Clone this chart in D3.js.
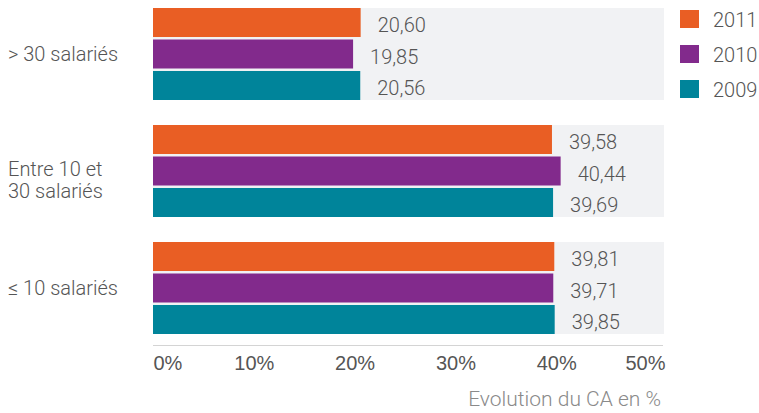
<!DOCTYPE html>
<html>
<head>
<meta charset="utf-8">
<script src="https://cdn.jsdelivr.net/npm/d3@7"></script>
<style>
  html, body { margin: 0; padding: 0; background: #fff; }
  svg { display: block; font-family: Roboto, "Liberation Sans", sans-serif; font-weight: 300; }
</style>
</head>
<body>
<svg id="chart" width="759" height="413"></svg>
<script>
// Company size groups (top to bottom) and label lines
const categories = ["> 30 salariés", "Entre 10 et 30 salariés", "≤ 10 salariés"];
const categoryLines = [["> 30 salariés"], ["Entre 10 et", "30 salariés"], ["≤ 10 salariés"]];
const years = ["2011", "2010", "2009"];
const yearColors = ["#E95E24", "#822A8C", "#00849A"];

// Revenue change (%) per group, one array per year
const values2011 = [20.60, 39.58, 39.81];
const values2010 = [19.85, 40.44, 39.71];
const values2009 = [20.56, 39.69, 39.85];

const xTicks = [0, 10, 20, 30, 40, 50];
const xTitle = "Evolution du CA en %";

const seriesByYear = { "2011": values2011, "2010": values2010, "2009": values2009 };
const color = d3.scaleOrdinal().domain(years).range(yearColors);
const fmt = v => v.toFixed(2).replace(".", ",");

const svg = d3.select("#chart");
const textColor = "#555";
const fontSize = 20;

const x = d3.scaleLinear().domain([0, 50]).range([153, 657]);
const plotRight = 664;
const yGroup = d3.scaleBand().domain(categories).range([8, 334]).paddingInner(25 / 117);
const yBar = d3.scaleBand().domain(years).range([0, yGroup.bandwidth()]).paddingInner(0.079);

const groups = svg.selectAll("g.group")
  .data(categories)
  .join("g")
  .attr("class", "group")
  .attr("transform", d => `translate(0,${yGroup(d)})`);

// light background band per group
groups.append("rect")
  .attr("x", x(0))
  .attr("y", 0)
  .attr("width", plotRight - x(0))
  .attr("height", yGroup.bandwidth())
  .attr("fill", "#F1F2F4");

groups.each(function (cat, i) {
  const g = d3.select(this);
  const rows = years.map(yr => ({ year: yr, value: seriesByYear[yr][i] }));
  g.selectAll("rect.bar")
    .data(rows)
    .join("rect")
    .attr("class", "bar")
    .attr("x", x(0))
    .attr("y", d => yBar(d.year))
    .attr("width", d => x(d.value) - x(0))
    .attr("height", yBar.bandwidth())
    .attr("fill", d => color(d.year));
  g.selectAll("text.value")
    .data(rows)
    .join("text")
    .attr("class", "value")
    .attr("x", d => x(d.value) + 17)
    .attr("y", d => yBar(d.year) + yBar.bandwidth() / 2 + 9.5)
    .attr("font-size", fontSize)
    .attr("fill", textColor)
    .text(d => fmt(d.value));

  // category label, first line aligned on the group centre
  const lines = categoryLines[i];
  const lh = 22;
  const first = yGroup.bandwidth() / 2 + (lines.length > 1 ? 5 : 7);
  const t = g.append("text")
    .attr("x", 8)
    .attr("font-size", fontSize)
    .attr("fill", textColor);
  lines.forEach((ln, k) => {
    t.append("tspan").attr("x", 8).attr("y", first + k * lh).text(ln);
  });
});

// x axis
const axis = svg.append("g")
  .attr("transform", "translate(0,345)")
  .call(d3.axisBottom(x).tickValues(xTicks).tickSize(0).tickPadding(0).tickFormat(d => d + "%"));
axis.select(".domain").attr("stroke", "#d4d4d4").attr("stroke-width", 1)
  .attr("d", `M${x(0)},0.5H${plotRight - 1}`);
axis.selectAll(".tick text")
  .attr("font-family", null)
  .attr("font-size", fontSize)
  .attr("fill", textColor)
  .attr("dy", null)
  .attr("y", 25)
  .attr("text-anchor", (d, i) => i === 0 ? "start" : (i === xTicks.length - 1 ? "end" : "middle"))
  .attr("x", (d, i) => i === xTicks.length - 1 ? plotRight + 1 - x(50) : 0);

svg.append("text")
  .attr("x", plotRight - 3)
  .attr("y", 406)
  .attr("text-anchor", "end")
  .attr("font-size", 21)
  .attr("fill", "#8a8a8a")
  .text(xTitle);

// legend
const legend = svg.selectAll("g.legend")
  .data(years)
  .join("g")
  .attr("class", "legend")
  .attr("transform", (d, i) => `translate(680,${10 + i * 35})`);
legend.append("rect").attr("width", 19).attr("height", 18).attr("fill", d => color(d));
legend.append("text")
  .attr("x", 33)
  .attr("y", 17)
  .attr("font-size", fontSize)
  .attr("fill", textColor)
  .text(d => d);
</script>
</body>
</html>
